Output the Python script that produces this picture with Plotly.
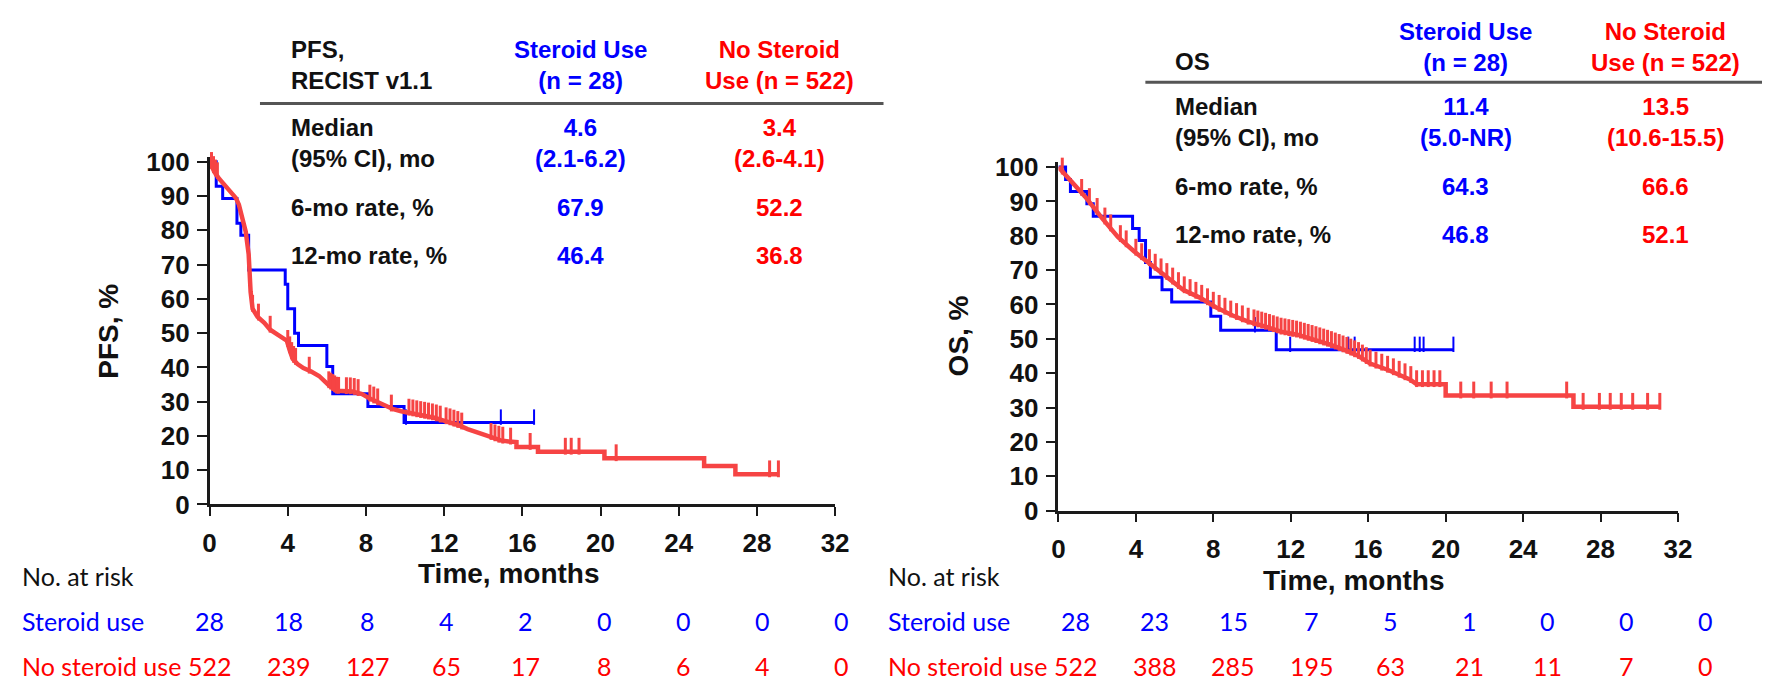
import numpy as np
import plotly.graph_objects as go

W, H = 1776, 692

# ---------------- data ----------------
months_ticks = [0, 4, 8, 12, 16, 20, 24, 28, 32]

# PFS, steroid use (step curve)
pfs_ster_t = [0, 0.34, 0.67, 1.4, 1.6, 2.0, 3.87, 4.0, 4.35, 4.55, 6.0, 6.3, 8.1, 9.95, 16.6]
pfs_ster_s = [100, 92.9, 89.3, 82.1, 78.6, 68.4, 64.3, 57.1, 50.0, 46.4, 40.3, 32.3, 28.6, 23.9, 23.9]
pfs_ster_cens = [10.05, 14.9, 16.6]

# PFS, no steroid use (curve vertices)
pfs_nost_t = [0, 0.25, 0.5, 0.75, 1.0, 1.35, 1.5, 1.7, 1.85, 2.0, 2.05, 2.1, 2.2, 2.45, 2.8, 3.1,
              3.5, 3.95, 4.1, 4.25, 4.5, 4.8, 5.2, 5.6, 6.1, 6.5, 7.3, 7.8, 8.2, 8.6, 9.0, 9.4,
              9.8, 10.3, 10.7, 11.1, 11.5, 11.9, 12.35, 12.8, 13.2, 13.6, 14.0, 14.4, 14.9, 15.3,
              15.7, 15.7, 16.8, 16.8, 20.2, 20.2, 25.3, 25.3, 26.9, 26.9, 29.1]
pfs_nost_s = [100, 97, 95, 93.2, 91.5, 89.4, 87.5, 83.3, 79.6, 73, 67, 62, 57.1, 54.8, 53, 51,
              49.5, 47.8, 45, 42.5, 41, 39.8, 38.8, 37.5, 34.8, 33.2, 33.0, 32.2, 30.9, 29.8, 28.6, 27.8,
              27.2, 26.7, 26.2, 25.8, 25.3, 24.6, 23.9, 23.0, 22.0, 21.3, 20.6, 19.7, 18.7, 18.4,
              18.2, 16.8, 16.8, 15.4, 15.4, 13.5, 13.5, 11.2, 11.2, 8.8, 8.8]
pfs_nost_cens = [0.1, 0.2, 0.3, 0.4, 2.2, 2.5, 3.1, 4.0, 4.1, 4.2, 4.3, 4.4, 5.1, 6.1, 6.2, 6.3,
                 6.4, 6.5, 6.6, 7.0, 7.2, 7.4, 7.6, 8.2, 8.4, 8.6, 9.3, 10.2, 10.4, 10.6, 10.8,
                 11.0, 11.2, 11.4, 11.6, 11.8, 12.1, 12.3, 12.5, 12.7, 12.9, 14.4, 14.6, 14.8,
                 15.0, 15.4, 16.4, 18.2, 18.5, 18.9, 20.8, 28.65, 29.1]

# OS, steroid use (step curve)
os_ster_t = [0, 0.37, 0.62, 1.47, 1.8, 3.83, 4.17, 4.5, 4.75, 5.35, 5.85, 7.87, 8.38, 11.25, 20.4]
os_ster_s = [100, 96.4, 92.9, 89.3, 85.7, 82.1, 78.6, 72.2, 67.9, 64.3, 60.7, 56.6, 52.5, 46.8, 46.8]
os_ster_cens = [10.15, 11.97, 14.97, 15.3, 18.4, 18.66, 18.86, 20.4]

# OS, no steroid use (curve vertices)
os_nost_t = [0, 0.54, 1.38, 2.23, 3.07, 3.9, 4.76, 5.6, 6.44, 7.3, 8.13, 9.0, 9.8, 10.66, 11.5,
             12.34, 13.2, 14.0, 14.9, 15.5, 16.1, 17.0, 18.15, 18.5, 20.0, 20.0, 26.6, 26.6, 31.06]
os_nost_s = [100, 96.5, 91.4, 85.3, 79.7, 75.5, 71.8, 68, 64.3, 62, 59.2, 56.8, 55, 53.6, 52.1,
             51.2, 49.8, 48.4, 46.5, 45.0, 42.8, 41, 38.2, 36.8, 36.8, 33.5, 33.5, 30.2, 30.2]
os_nost_cens = [0.2, 1.2, 1.6, 2.0, 2.4, 2.7, 3.2, 3.5, 4.0, 4.3, 4.7, 5.0, 5.3, 5.6, 5.9, 6.2,
                6.5, 6.8, 7.1, 7.4, 7.7, 8.0, 8.3, 8.6, 8.9, 9.2, 9.5, 9.8, 10.1, 10.3, 10.5, 10.7,
                10.9, 11.1, 11.3, 11.5, 11.7, 11.9, 12.1, 12.3, 12.5, 12.7, 12.9, 13.1, 13.3, 13.5,
                13.7, 13.9, 14.1, 14.3, 14.5, 14.7, 14.9, 15.1, 15.3, 15.5, 15.7, 15.9, 16.1, 16.4,
                16.7, 17.0, 17.3, 17.6, 17.9, 18.2, 18.5, 18.8, 19.1, 19.4, 19.7, 20.78, 21.45,
                22.35, 23.17, 26.25, 27.1, 27.94, 28.5, 29.07, 29.66, 30.43, 31.06]

# risk tables
risk_pfs_ster = [28, 18, 8, 4, 2, 0, 0, 0, 0]
risk_pfs_nost = [522, 239, 127, 65, 17, 8, 6, 4, 0]
risk_os_ster = [28, 23, 15, 7, 5, 1, 0, 0, 0]
risk_os_nost = [522, 388, 285, 195, 63, 21, 11, 7, 0]

# summary tables
pfs_rows = ["Median<br>(95% CI), mo", "6-mo rate, %", "12-mo rate, %"]
pfs_ster_vals = ["4.6<br>(2.1-6.2)", "67.9", "46.4"]
pfs_nost_vals = ["3.4<br>(2.6-4.1)", "52.2", "36.8"]
os_rows = ["Median<br>(95% CI), mo", "6-mo rate, %", "12-mo rate, %"]
os_ster_vals = ["11.4<br>(5.0-NR)", "64.3", "46.8"]
os_nost_vals = ["13.5<br>(10.6-15.5)", "66.6", "52.1"]

# ---------------- styles ----------------
BLUE = "#0000FF"
RED_LINE = "#F64444"
RED_TXT = "#FF0000"
AX = "#1a1a1a"
ARIAL = "Liberation Sans, Arial, sans-serif"
CAL = "Lato, Calibri, sans-serif"


def px(x):
    return x / W


def py(y):
    return 1 - y / H


def step_value(ts, ss, t):
    ts = np.asarray(ts)
    ss = np.asarray(ss)
    idx = np.searchsorted(ts, t, side="right") - 1
    return ss[np.clip(idx, 0, len(ss) - 1)]


def curve_value(ts, ss, t):
    ts = np.asarray(ts, dtype=float)
    ss = np.asarray(ss, dtype=float)
    out = []
    for tt in t:
        idx = np.where(ts <= tt)[0][-1]
        if idx < len(ts) - 1 and ts[idx + 1] > ts[idx]:
            f = (tt - ts[idx]) / (ts[idx + 1] - ts[idx])
            out.append(ss[idx] + f * (ss[idx + 1] - ss[idx]))
        else:
            out.append(ss[idx])
    return np.array(out)


fig = go.Figure()

CENS_OFF = 1.6


def add_panel(xa, ya, st_t, st_s, st_c, ns_t, ns_s, ns_c):
    fig.add_trace(go.Scatter(x=st_t, y=st_s, mode="lines", line=dict(color=BLUE, width=3, shape="hv"),
                             xaxis=xa, yaxis=ya, showlegend=False, hoverinfo="skip"))
    fig.add_trace(go.Scatter(x=st_c, y=step_value(st_t, st_s, st_c) + CENS_OFF, mode="markers",
                             marker=dict(symbol="line-ns", size=11, line=dict(color=BLUE, width=2)),
                             xaxis=xa, yaxis=ya, showlegend=False, hoverinfo="skip", cliponaxis=False))
    fig.add_trace(go.Scatter(x=ns_t, y=ns_s, mode="lines", line=dict(color=RED_LINE, width=4.5),
                             xaxis=xa, yaxis=ya, showlegend=False, hoverinfo="skip"))
    fig.add_trace(go.Scatter(x=ns_c, y=curve_value(ns_t, ns_s, ns_c) + CENS_OFF, mode="markers",
                             marker=dict(symbol="line-ns", size=12, line=dict(color=RED_LINE, width=3)),
                             xaxis=xa, yaxis=ya, showlegend=False, hoverinfo="skip", cliponaxis=False))


add_panel("x", "y", pfs_ster_t, pfs_ster_s, pfs_ster_cens, pfs_nost_t, pfs_nost_s, pfs_nost_cens)
add_panel("x2", "y2", os_ster_t, os_ster_s, os_ster_cens, os_nost_t, os_nost_s, os_nost_cens)

YTOP = 101.5
TICKF = dict(family=ARIAL, size=26, color="#111", weight="bold")


def xaxis_style(domain, anchor):
    return dict(domain=domain, anchor=anchor, range=[0, 32], tickvals=months_ticks,
                showline=True, linecolor=AX, linewidth=2.5, ticks="outside", ticklen=9,
                tickwidth=2, tickcolor=AX, showgrid=False, zeroline=False,
                tickfont=TICKF, ticklabelstandoff=5)


def yaxis_style(domain, anchor):
    return dict(domain=domain, anchor=anchor, range=[0, YTOP], tickvals=list(range(0, 101, 10)),
                showline=True, linecolor=AX, linewidth=2.5, ticks="outside", ticklen=10,
                tickwidth=2, tickcolor=AX, showgrid=False, zeroline=False,
                tickfont=TICKF, ticklabelstandoff=2)


# panel pixel geometry
L_x0, L_x1, L_y0, L_y100 = 205, 838, 513, 157.5
R_x0, R_x1, R_y0, R_y100 = 1064, 1691, 519.3, 163
L_ytop = L_y0 - (L_y0 - L_y100) * YTOP / 100
R_ytop = R_y0 - (R_y0 - R_y100) * YTOP / 100

fig.update_layout(
    width=W, height=H, margin=dict(l=0, r=0, t=0, b=0, pad=0),
    paper_bgcolor="white", plot_bgcolor="white", showlegend=False,
    xaxis=xaxis_style([px(L_x0), px(L_x1)], "y"),
    yaxis=yaxis_style([py(L_y0), py(L_ytop)], "x"),
    xaxis2=xaxis_style([px(R_x0), px(R_x1)], "y2"),
    yaxis2=yaxis_style([py(R_y0), py(R_ytop)], "x2"),
)

ann = []


def text(x, y, s, color="#111", size=24, family=ARIAL, bold=True, xanchor="left", angle=0):
    ann.append(dict(x=px(x), y=py(y), xref="paper", yref="paper", text=s, showarrow=False,
                    xanchor=xanchor, yanchor="middle", textangle=angle,
                    align="center" if xanchor == "center" else "left",
                    font=dict(family=family, size=size, color=color, weight="bold" if bold else "normal")))


# axis titles
text(103, 333, "PFS, %", size=28, xanchor="center", angle=-90)
text(508, 585, "Time, months", size=28, xanchor="center")
text(963, 338, "OS, %", size=28, xanchor="center", angle=-90)
text(1363, 592, "Time, months", size=28, xanchor="center")

# left summary table
text(285, 57.5, "PFS,<br>RECIST v1.1")
text(580, 57.5, "Steroid Use<br>(n = 28)", color=BLUE, xanchor="center")
text(782, 57.5, "No Steroid<br>Use (n = 522)", color=RED_TXT, xanchor="center")
for r, yv in zip(range(3), [138, 205, 255]):
    text(285, yv, pfs_rows[r])
    text(580, yv, pfs_ster_vals[r], color=BLUE, xanchor="center")
    text(782, yv, pfs_nost_vals[r], color=RED_TXT, xanchor="center")

# right summary table
text(1180, 53, "OS")
text(1476, 38, "Steroid Use<br>(n = 28)", color=BLUE, xanchor="center")
text(1678, 38, "No Steroid<br>Use (n = 522)", color=RED_TXT, xanchor="center")
for r, yv in zip(range(3), [116.7, 182.7, 233.3]):
    text(1180, yv, os_rows[r])
    text(1476, yv, os_ster_vals[r], color=BLUE, xanchor="center")
    text(1678, yv, os_nost_vals[r], color=RED_TXT, xanchor="center")

# risk tables
RS = 25
text(13, 587, "No. at risk", size=RS, family=CAL, bold=False)
text(13, 634, "Steroid use", color=BLUE, size=RS, family=CAL, bold=False)
text(13, 681, "No steroid use", color=RED_TXT, size=RS, family=CAL, bold=False)
text(890, 587, "No. at risk", size=RS, family=CAL, bold=False)
text(890, 634, "Steroid use", color=BLUE, size=RS, family=CAL, bold=False)
text(890, 681, "No steroid use", color=RED_TXT, size=RS, family=CAL, bold=False)


def month_to_px(t, x0, x1):
    return x0 + (t / 32.0) * (x1 - x0)


for i, t in enumerate(months_ticks):
    for xpix, vals_s, vals_n in ((month_to_px(t * 1.01, L_x0, L_x1), risk_pfs_ster, risk_pfs_nost),
                                 (month_to_px(t * 1.016 + 0.9, R_x0, R_x1), risk_os_ster, risk_os_nost)):
        for v, yy, c in ((vals_s[i], 634, BLUE), (vals_n[i], 681, RED_TXT)):
            text(xpix, yy, str(v), color=c, size=RS, family=CAL, bold=False, xanchor="center")

fig.update_layout(annotations=ann)

# table rules
fig.add_shape(type="line", xref="paper", yref="paper", x0=px(256), x1=px(887), y0=py(97), y1=py(97),
              line=dict(color="#555", width=3))
fig.add_shape(type="line", xref="paper", yref="paper", x0=px(1152), x1=px(1776), y0=py(75), y1=py(75),
              line=dict(color="#555", width=3))

fig.write_html("out.html", config={"displayModeBar": False},
               post_script="document.body.style.margin='0';document.body.style.padding='0';"
                           "document.body.style.overflow='hidden';")
